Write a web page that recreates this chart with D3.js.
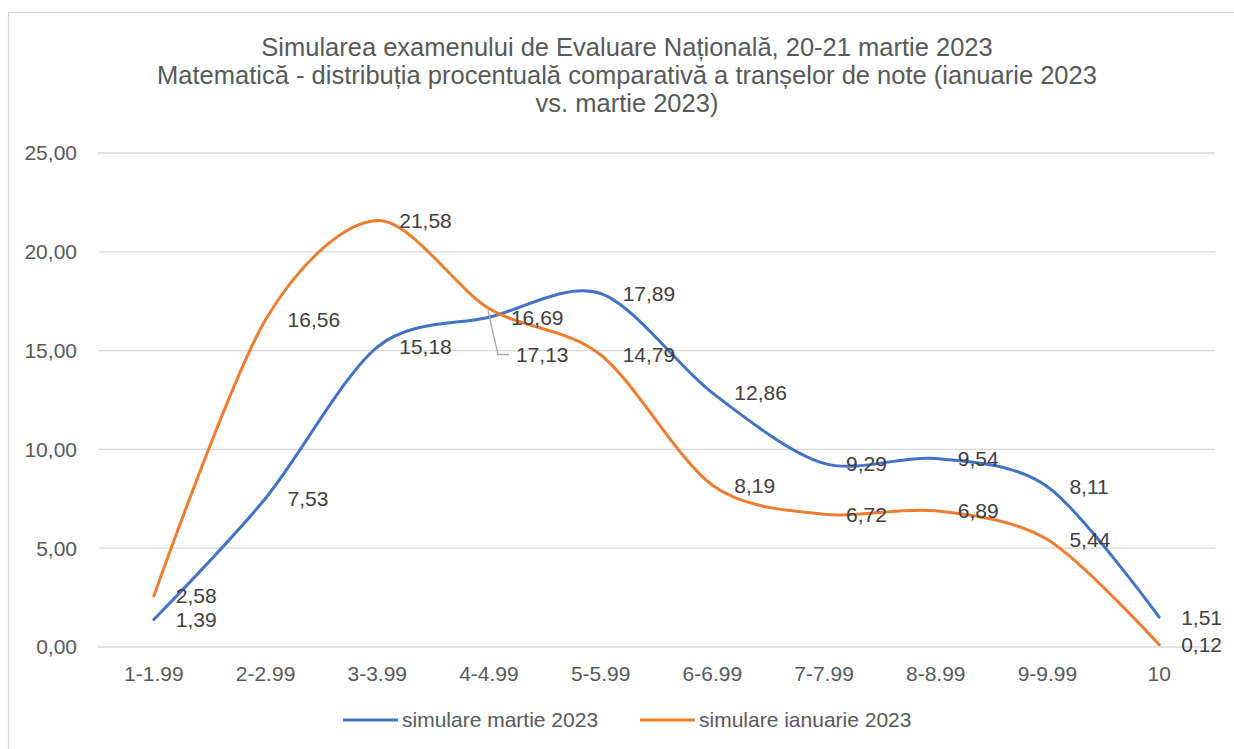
<!DOCTYPE html>
<meta charset="utf-8">
<style type="text/css">
body { margin: 0; background: #fff; }
.grid line { stroke: #d9d9d9; stroke-width: 1.3; }
.line { fill: none; stroke-width: 3; stroke-linecap: round; }
.tick-label { fill: #595959; font-family: "Liberation Sans", Arial, sans-serif; font-size: 21px; }
.data-label { fill: #404040; font-family: "Liberation Sans", Arial, sans-serif; font-size: 21px; }
.title { fill: #595959; font-family: "Liberation Sans", Arial, sans-serif; font-size: 25.5px; }
</style>
<body>
<script src="https://d3js.org/d3.v7.min.js"></script>
<script>

// categories (tranșe de note)
var categories = ["1-1.99", "2-2.99", "3-3.99", "4-4.99", "5-5.99", "6-6.99", "7-7.99", "8-8.99", "9-9.99", "10"];

// series values (%)
var martie = [1.39, 7.53, 15.18, 16.69, 17.89, 12.86, 9.29, 9.54, 8.11, 1.51];
var ianuarie = [2.58, 16.56, 21.58, 17.13, 14.79, 8.19, 6.72, 6.89, 5.44, 0.12];

var seriesNames = ["simulare martie 2023", "simulare ianuarie 2023"];
var yTicks = [0, 5, 10, 15, 20, 25];
var titleLines = [
  "Simularea examenului de Evaluare Națională, 20-21 martie 2023",
  "Matematică - distribuția procentuală comparativă a tranșelor de note (ianuarie 2023",
  "vs. martie 2023)"
];

var W = 1234, H = 749;
var colors = ["#4472C4", "#ED7D31"];

var svg = d3.select("body").append("svg")
    .attr("width", W)
    .attr("height", H);

// chart frame
svg.append("rect")
    .attr("x", 8.5).attr("y", 12.5)
    .attr("width", W + 20).attr("height", H + 20)
    .attr("fill", "none")
    .attr("stroke", "#d9d9d9")
    .attr("stroke-width", 1.3);

var x = d3.scalePoint()
    .domain(categories)
    .range([98, 1215])
    .padding(0.5);

var y = d3.scaleLinear()
    .domain([0, 25])
    .range([647, 153]);

// title
svg.append("g").selectAll("text")
    .data(titleLines)
  .enter().append("text")
    .attr("class", "title")
    .attr("x", 627)
    .attr("y", function(d, i) { return 56 + i * 28; })
    .attr("text-anchor", "middle")
    .text(function(d) { return d; });

// gridlines
svg.append("g")
    .attr("class", "grid")
    .selectAll("line")
    .data(yTicks)
  .enter().append("line")
    .attr("x1", 98).attr("x2", 1215)
    .attr("y1", function(d) { return y(d); })
    .attr("y2", function(d) { return y(d); });

// y axis labels
var fmt = function(d) { return d3.format(".2f")(d).replace(".", ","); };
svg.append("g").selectAll("text")
    .data(yTicks)
  .enter().append("text")
    .attr("class", "tick-label")
    .attr("x", 77)
    .attr("y", function(d) { return y(d); })
    .attr("dy", "0.35em")
    .attr("text-anchor", "end")
    .text(fmt);

// x axis labels
svg.append("g").selectAll("text")
    .data(categories)
  .enter().append("text")
    .attr("class", "tick-label")
    .attr("x", function(d) { return x(d); })
    .attr("y", 674)
    .attr("dy", "0.35em")
    .attr("text-anchor", "middle")
    .text(function(d) { return d; });

var line = d3.line()
    .x(function(d, i) { return x(categories[i]); })
    .y(function(d) { return y(d); })
    .curve(d3.curveCardinal.tension(0.1));

var series = [martie, ianuarie];

series.forEach(function(s, k) {
  svg.append("path")
      .datum(s)
      .attr("class", "line")
      .attr("stroke", colors[k])
      .attr("d", line);
});

// data labels: right of each point
var numFmt = function(d) { return d.toFixed(2).replace(".", ","); };
series.forEach(function(s, k) {
  svg.append("g").selectAll("text")
      .data(s)
    .enter().append("text")
      .attr("class", "data-label")
      .attr("x", function(d, i) {
        if (k === 1 && i === 3) return x(categories[i]) + 27;
        return x(categories[i]) + 22;
      })
      .attr("y", function(d, i) {
        if (k === 1 && i === 3) return y(d) + 46;
        return y(d);
      })
      .attr("dy", "0.35em")
      .text(numFmt);
});

// leader line for displaced label (ianuarie, 4-4.99)
var lx = x(categories[3]), ly = y(ianuarie[3]);
svg.append("path")
    .attr("d", d3.line()([[lx - 1, ly + 2], [lx + 9, ly + 46], [lx + 20, ly + 46]]))
    .attr("fill", "none")
    .attr("stroke", "#a6a6a6")
    .attr("stroke-width", 1.3);

// legend
var legend = svg.append("g").selectAll("g")
    .data(seriesNames)
  .enter().append("g")
    .attr("transform", function(d, i) { return "translate(" + (343 + i * 297) + ",720)"; });

legend.append("line")
    .attr("x1", 0).attr("x2", 55)
    .attr("y1", 0).attr("y2", 0)
    .attr("stroke", function(d, i) { return colors[i]; })
    .attr("stroke-width", 3);

legend.append("text")
    .attr("class", "tick-label")
    .attr("x", 59)
    .attr("dy", "0.35em")
    .text(function(d) { return d; });

</script>
</body>
